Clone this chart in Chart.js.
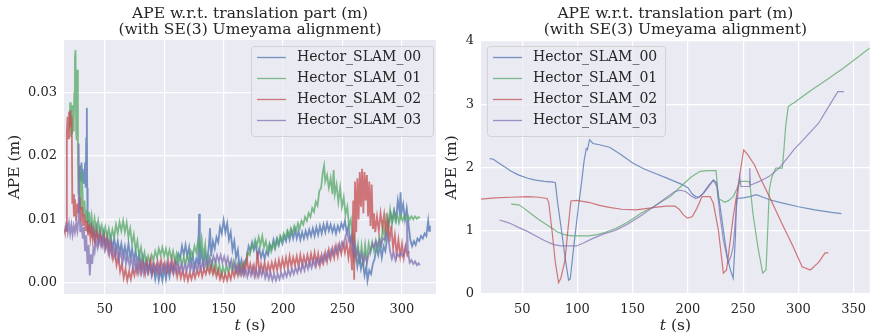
<!DOCTYPE html>
<html>
<head>
<meta charset="utf-8">
<script src="https://cdn.jsdelivr.net/npm/chart.js@4.4.1/dist/chart.umd.min.js"></script>
<style>
  html, body { margin: 0; padding: 0; background: #ffffff; }
  #wrap { position: relative; width: 874px; height: 336px; overflow: hidden; }
  canvas { position: absolute; top: 0; }
  #chartLeft { left: 0; }
  #chartRight { left: 437px; }
</style>
</head>
<body>
<div id="wrap">
  <canvas id="chartLeft" width="437" height="336"></canvas>
  <canvas id="chartRight" width="437" height="336"></canvas>
</div>
<script>
// nomi delle serie e colori (seaborn deep)
const nomiSerie = ["Hector_SLAM_00", "Hector_SLAM_01", "Hector_SLAM_02", "Hector_SLAM_03"];
const coloriSerie = ["rgba(76,114,176,0.75)", "rgba(85,168,104,0.75)", "rgba(196,78,82,0.75)", "rgba(129,114,178,0.75)"];

const titoloGrafico = ["APE w.r.t. translation part (m)", "(with SE(3) Umeyama alignment)"];
const etichettaY = "APE (m)";

// --- grafico di sinistra: [t (s), APE (m)] ---
const sx00 = [[29,0.0165],[29.5,0.0185],[30,0.016],[30.5,0.019],[31,0.0165],[31.5,0.018],[32,0.0158],[32.5,0.0175],[33,0.016],[33.5,0.019],[34,0.015],[34.5,0.0228],[35,0.0276],[35.3,0.015],[35.7,0.008],[36.5,0.01],[37.5,0.0078],[38.5,0.0095],[39.5,0.0072],[40.5,0.009],[41.5,0.007],[43,0.0088],[44.5,0.0068],[46,0.0085],[47.5,0.0064],[49,0.008],[50.5,0.006],[52,0.0076],[53.5,0.0058],[55,0.0072],[56.5,0.0056],[58,0.007],[59.5,0.0052],[61,0.0066],[62.5,0.0048],[64,0.0062],[65.5,0.0044],[67,0.0058],[68.5,0.0042],[70,0.0062],[71.5,0.004],[73,0.0054],[74.5,0.0036],[76,0.005],[77.5,0.0032],[79,0.0046],[80.5,0.0028],[82,0.0042],[83.5,0.0024],[85,0.0036],[86.5,0.0018],[88,0.003],[89.5,0.0012],[91,0.0026],[92.5,0.0006],[94,0.0022],[95.5,0.0004],[97,0.002],[98.5,0.0004],[100,0.0022],[101.5,0.0006],[103,0.0024],[104.5,0.001],[106,0.0028],[107.5,0.0018],[109,0.0036],[110.5,0.003],[112,0.0046],[113.5,0.004],[115,0.0058],[116.5,0.0044],[118,0.006],[119.5,0.0042],[121,0.0056],[122.5,0.003],[124,0.0044],[125.5,0.0024],[127,0.0038],[128.5,0.003],[129.4,0.0109],[130,0.003],[131.5,0.005],[133,0.0028],[134.5,0.0048],[136,0.0034],[137.5,0.0056],[138.6,0.0086],[139.5,0.0042],[141,0.0066],[142.5,0.0054],[144,0.0072],[145.5,0.0064],[147,0.0088],[148.5,0.0078],[150,0.0099],[151.5,0.008],[153,0.0094],[154.5,0.0068],[156,0.008],[157.5,0.0052],[159,0.0066],[160.5,0.004],[162,0.0052],[163.5,0.0024],[165,0.0036],[166.5,0.0018],[168,0.0034],[169.5,0.004],[171,0.0058],[172.5,0.005],[174,0.0064],[175.5,0.0052],[177,0.0062],[178.5,0.0042],[180,0.0054],[181.5,0.004],[183,0.005],[184.5,0.0038],[186,0.005],[187.5,0.0044],[189,0.006],[190.5,0.0054],[192,0.0068],[193.5,0.0056],[195,0.007],[196.5,0.006],[198,0.0072],[199.5,0.0062],[201,0.0074],[202.5,0.0066],[204,0.008],[205.5,0.0068],[207,0.0082],[208.5,0.007],[210,0.0084],[211.5,0.007],[213,0.0082],[214.5,0.0068],[216,0.008],[217.5,0.007],[219,0.0082],[220.5,0.0072],[222,0.0084],[223.5,0.0074],[225,0.0086],[226.5,0.0074],[228,0.0088],[229.5,0.0076],[231,0.009],[232.5,0.0078],[234,0.0092],[235.5,0.008],[237,0.0094],[238.5,0.0082],[240,0.0092],[241.5,0.008],[243,0.009],[244.5,0.0078],[246,0.009],[247.5,0.0082],[249,0.0094],[250.5,0.0086],[252,0.0098],[253.5,0.008],[255,0.009],[256.5,0.0066],[258,0.0076],[259.5,0.004],[261,0.0054],[262.5,0.0026],[264,0.0042],[265.5,0.0022],[267,0.0036],[268.5,0.0012],[270,0.0026],[271,0.0004],[272.5,0.002],[274,0.0014],[275.5,0.003],[277,0.0038],[278.5,0.0056],[280,0.0044],[281.5,0.006],[283,0.004],[284.5,0.0058],[286,0.005],[287.5,0.007],[289,0.0094],[290.5,0.011],[292,0.0098],[293.5,0.0114],[295,0.01],[296.5,0.013],[298,0.0112],[298.8,0.0143],[299.5,0.011],[301,0.0124],[302.5,0.01],[304,0.0118],[305.5,0.0092],[307,0.0068],[308.5,0.0058],[310,0.0066],[311.5,0.006],[313,0.007],[314.5,0.0066],[316,0.0074],[317.5,0.007],[319,0.0078],[320.5,0.0074],[322,0.0098],[322.8,0.0082],[323.5,0.009]];

const sx01 = [[20.5,0.024],[21,0.0285],[21.5,0.023],[22,0.0265],[22.5,0.0235],[23,0.028],[23.5,0.024],[24,0.025],[24.5,0.03],[25,0.0355],[25.5,0.0367],[26,0.024],[26.5,0.0225],[27,0.0336],[27.5,0.02],[28,0.014],[28.5,0.0185],[29,0.012],[29.5,0.0175],[30,0.0115],[31,0.0165],[32,0.0105],[33,0.013],[34,0.0095],[35,0.0115],[36,0.0092],[37,0.0112],[38,0.0088],[39,0.0105],[40,0.0085],[41.5,0.0102],[43,0.008],[44.5,0.0098],[46,0.0076],[47.5,0.009],[49,0.0074],[50.5,0.0088],[52,0.007],[53.5,0.0085],[55,0.0068],[56.5,0.0084],[58,0.0072],[59.5,0.0092],[61,0.0078],[62.5,0.0096],[64,0.0082],[65.5,0.0098],[67,0.008],[68.5,0.0095],[70,0.0072],[71.5,0.0086],[73,0.0062],[74.5,0.0076],[76,0.0052],[77.5,0.0066],[79,0.0042],[80.5,0.0056],[82,0.0034],[83.5,0.0048],[85,0.003],[86.5,0.0042],[88,0.003],[89.5,0.0044],[91,0.0036],[92.5,0.005],[94,0.004],[95.5,0.0054],[97,0.0044],[98.5,0.0056],[100,0.0042],[101.5,0.0054],[103,0.004],[104.5,0.0052],[106,0.0038],[107.5,0.005],[109,0.0034],[110.5,0.0046],[112,0.003],[113.5,0.0042],[115,0.0028],[116.5,0.004],[118,0.003],[119.5,0.0044],[121,0.0034],[122.5,0.005],[124,0.0042],[125.5,0.0058],[127,0.0048],[128.5,0.0066],[130,0.005],[131.5,0.007],[133,0.004],[134.5,0.006],[136,0.0024],[137.5,0.004],[139,0.002],[140.5,0.0034],[142,0.0018],[143.5,0.0032],[145,0.0016],[146.5,0.0028],[148,0.0012],[149.5,0.0026],[151,0.0014],[152.5,0.0028],[154,0.0016],[155.5,0.003],[157,0.002],[158.5,0.0034],[160,0.0018],[161.5,0.003],[163,0.0016],[164.5,0.0028],[166,0.0018],[167.5,0.0032],[169,0.003],[170.5,0.0048],[172,0.0044],[173.5,0.006],[175,0.0054],[176.5,0.0068],[178,0.0058],[179.5,0.0072],[181,0.006],[182.5,0.0074],[184,0.0056],[185.5,0.0066],[187,0.005],[188.5,0.0062],[190,0.005],[191.5,0.0062],[193,0.0054],[194.5,0.0068],[196,0.006],[197.5,0.0074],[199,0.0066],[200.5,0.0078],[202,0.007],[203.5,0.0082],[205,0.0074],[206.5,0.0086],[208,0.0078],[209.5,0.009],[211,0.0082],[212.5,0.0094],[214,0.0086],[215.5,0.0098],[217,0.0092],[218.5,0.0104],[220,0.0098],[221.5,0.011],[223,0.0104],[224.5,0.0118],[226,0.0112],[227.5,0.0128],[229,0.0122],[230.5,0.0145],[232,0.015],[233.5,0.0175],[234.5,0.0185],[235.5,0.016],[237,0.017],[238.5,0.015],[240,0.0165],[241.5,0.014],[242.5,0.0178],[243.5,0.014],[245,0.0155],[246.5,0.0128],[248,0.015],[249.5,0.012],[251,0.0135],[252.5,0.0108],[254,0.012],[255.5,0.009],[257,0.01],[258.5,0.0065],[260,0.0075],[261.5,0.004],[263,0.006],[264.5,0.003],[266,0.0058],[267.5,0.0032],[269,0.006],[270.5,0.0036],[272,0.0062],[273.5,0.0048],[275,0.0064],[276.5,0.005],[278,0.0066],[279.5,0.0052],[281,0.0072],[282.5,0.006],[284,0.009],[285.5,0.007],[287,0.011],[288.5,0.0085],[290,0.0115],[291.5,0.0092],[293,0.0112],[294.5,0.0098],[296,0.0108],[297.5,0.0095],[299,0.0106],[300.5,0.0098],[302,0.0106],[303.5,0.01],[305,0.0106],[306.5,0.01],[308,0.0105],[309.5,0.01],[311,0.0105],[312.5,0.0101],[314,0.0104],[315,0.0102]];

const sx02 = [[15.8,0.0085],[16.5,0.008],[17.3,0.0088],[17.8,0.0082],[18.2,0.024],[18.8,0.0262],[19.4,0.0228],[20,0.027],[20.6,0.0245],[21.2,0.0272],[21.8,0.025],[22.3,0.0262],[22.8,0.0125],[23.5,0.014],[24.2,0.0105],[25,0.0132],[26,0.0098],[27,0.0125],[28,0.011],[29,0.0135],[30,0.0095],[31,0.012],[32,0.009],[33,0.0108],[34,0.0082],[35,0.0098],[36,0.0075],[37,0.0092],[38,0.007],[39,0.0086],[40,0.0068],[41,0.0082],[42,0.0065],[43.5,0.008],[45,0.0062],[46.5,0.0076],[48,0.006],[49.5,0.0074],[51,0.0055],[52.5,0.0068],[54,0.0045],[55.5,0.006],[57,0.0038],[58.5,0.005],[60,0.0028],[61.5,0.0042],[63,0.0018],[64.5,0.003],[66,0.0008],[67.5,0.0022],[69,0.0004],[70.5,0.0018],[72,0.0006],[73.5,0.0022],[75,0.0012],[76.5,0.0028],[78,0.0015],[79.5,0.0032],[81,0.0016],[82.5,0.003],[84,0.0014],[85.5,0.0032],[87,0.0018],[88.5,0.0036],[90,0.0016],[91.5,0.003],[93,0.002],[94.5,0.0034],[96,0.0018],[97.5,0.0036],[99,0.002],[100.5,0.0032],[102,0.0018],[103.5,0.0034],[105,0.002],[106.5,0.0036],[108,0.0016],[109.5,0.003],[111,0.001],[112.5,0.0024],[114,0.0008],[115.5,0.002],[117,0.0006],[118.5,0.0018],[120,0.0004],[121.5,0.0016],[123,0.0006],[124.5,0.0018],[126,0.0008],[127.5,0.002],[129,0.0012],[130.5,0.0024],[132,0.001],[133.5,0.0022],[135,0.0014],[136.5,0.0026],[138,0.0016],[139.5,0.0028],[141,0.0014],[142.5,0.0024],[144,0.001],[145.5,0.002],[147,0.0006],[148.5,0.0016],[150,0.0004],[151.5,0.0014],[153,0.0004],[154.5,0.0016],[156,0.0006],[157.5,0.002],[159,0.001],[160.5,0.0024],[162,0.0012],[163.5,0.0026],[165,0.0014],[166.5,0.003],[168,0.0016],[169.5,0.004],[171,0.0018],[172.5,0.003],[174,0.0016],[175.5,0.0028],[177,0.0014],[178.5,0.005],[180,0.0016],[181.5,0.003],[183,0.0018],[184.5,0.0032],[186,0.0016],[187.5,0.003],[189,0.0018],[190.5,0.0032],[192,0.002],[193.5,0.0034],[195,0.002],[196.5,0.0036],[198,0.0022],[199.5,0.0038],[201,0.0024],[202.5,0.004],[204,0.0024],[205.5,0.0042],[207,0.0026],[208.5,0.004],[210,0.0028],[211.5,0.0042],[213,0.0026],[214.5,0.0044],[216,0.0028],[217.5,0.0042],[219,0.003],[220.5,0.0044],[222,0.003],[223.5,0.0046],[225,0.0032],[226.5,0.0048],[228,0.003],[229.5,0.0046],[231,0.0028],[232.5,0.0044],[234,0.0032],[235.5,0.0048],[237,0.0034],[238.5,0.0052],[240,0.0038],[241.5,0.0054],[243,0.004],[244.5,0.0058],[246,0.0042],[247.5,0.006],[249,0.0046],[250.5,0.0062],[252,0.0048],[253.5,0.0064],[255,0.004],[256.5,0.006],[258,0.002],[259,0.013],[259.8,0.0005],[260.5,0.016],[261.5,0.008],[262.5,0.0165],[263.5,0.01],[264.5,0.0175],[265.5,0.012],[266.5,0.018],[267.5,0.011],[268.5,0.0175],[269.5,0.013],[270.5,0.017],[271.5,0.0105],[272.5,0.016],[273.5,0.009],[274.5,0.0155],[275.5,0.0085],[276.5,0.011],[277.5,0.008],[279,0.0105],[280.5,0.0082],[282,0.011],[283.5,0.0088],[285,0.0108],[286.5,0.0078],[288,0.01],[289.5,0.0065],[291,0.009],[292.5,0.0055],[294,0.0075],[295.5,0.0045],[297,0.0068],[298.5,0.0042],[300,0.0062],[301.5,0.004],[303,0.0058],[304.5,0.0044],[306,0.005]];

const sx03 = [[17,0.009],[17.5,0.0082],[18,0.0095],[19,0.008],[20,0.0094],[21,0.0078],[22,0.0092],[23,0.0076],[24,0.009],[25,0.008],[26,0.0094],[27,0.0082],[27.8,0.0098],[28.2,0.022],[28.6,0.012],[29.5,0.008],[30.5,0.0095],[31.5,0.007],[32.5,0.0088],[33.5,0.005],[34.5,0.0075],[35.5,0.003],[36.5,0.006],[37.5,0.0012],[38.5,0.0045],[39.5,0.003],[40.5,0.0055],[41.5,0.0048],[42.5,0.0068],[44,0.0055],[45.5,0.0072],[47,0.0058],[48.5,0.007],[50,0.0052],[51.5,0.0066],[53,0.0048],[54.5,0.0062],[56,0.0044],[57.5,0.0058],[59,0.004],[60.5,0.0054],[62,0.0036],[63.5,0.005],[65,0.0032],[66.5,0.0046],[68,0.003],[69.5,0.0042],[71,0.0026],[72.5,0.004],[74,0.0022],[75.5,0.0036],[77,0.0018],[78.5,0.0032],[80,0.0016],[81.5,0.003],[83,0.0014],[84.5,0.0028],[86,0.0016],[87.5,0.003],[89,0.0018],[90.5,0.003],[92,0.0016],[93.5,0.0028],[95,0.0018],[96.5,0.003],[98,0.0016],[99.5,0.0028],[101,0.0018],[102.5,0.0032],[104,0.002],[105.5,0.003],[107,0.0018],[108.5,0.003],[110,0.0016],[111.5,0.0028],[113,0.0018],[114.5,0.003],[116,0.0018],[117.5,0.003],[119,0.002],[120.5,0.0032],[122,0.002],[123.5,0.003],[125,0.0018],[126.5,0.003],[128,0.002],[129.5,0.0032],[131,0.0022],[132.5,0.0034],[134,0.0024],[135.5,0.0036],[137,0.0028],[138.5,0.004],[140,0.003],[141.5,0.0042],[143,0.0032],[144.5,0.0044],[146,0.0034],[147.5,0.0044],[149,0.0032],[150.5,0.0042],[152,0.003],[153.5,0.004],[155,0.0026],[156.5,0.0036],[158,0.0022],[159.5,0.0032],[161,0.0018],[162.5,0.0028],[164,0.0014],[165.5,0.0024],[167,0.0012],[168.5,0.0022],[170,0.001],[171.5,0.0022],[173,0.0012],[174.5,0.0024],[176,0.001],[177.5,0.002],[179,0.001],[180.5,0.0022],[182,0.0012],[183.5,0.0022],[185,0.0008],[186.5,0.0018],[188,0.0006],[189.5,0.0016],[191,0.0004],[192.5,0.0014],[194,0.0004],[195.5,0.0014],[197,0.0006],[198.5,0.0016],[200,0.0008],[201.5,0.0018],[203,0.001],[204.5,0.002],[206,0.0012],[207.5,0.0022],[209,0.0014],[210.5,0.0024],[212,0.0016],[213.5,0.0026],[215,0.0018],[216.5,0.003],[218,0.002],[219.5,0.0032],[221,0.0022],[222.5,0.0034],[224,0.0024],[225.5,0.0036],[227,0.0026],[228.5,0.0038],[230,0.003],[231.5,0.004],[233,0.0032],[234.5,0.0044],[236,0.0036],[237.5,0.0048],[239,0.004],[240.5,0.0052],[242,0.0044],[243.5,0.0056],[245,0.0048],[246.5,0.006],[248,0.0052],[249.5,0.0064],[251,0.0058],[252.5,0.0074],[254,0.008],[255.5,0.0066],[257,0.0072],[258.5,0.005],[260,0.0064],[261.5,0.004],[263,0.0052],[264.5,0.0034],[266,0.0046],[267.5,0.003],[269,0.0044],[270.5,0.0032],[272,0.0046],[273.5,0.005],[275,0.0062],[276.5,0.0056],[278,0.0066],[279.5,0.0058],[281,0.0068],[282.5,0.006],[284,0.007],[285.5,0.0068],[287,0.0078],[288.5,0.007],[290,0.005],[291.5,0.0038],[293,0.0048],[294.5,0.0036],[296,0.0046],[297.5,0.0042],[299,0.0048],[300.5,0.0042],[302,0.0048],[303.5,0.006],[304.2,0.0099],[305,0.005],[306.5,0.0032],[308,0.0036],[309.5,0.003],[311,0.0034],[312.5,0.0028],[314,0.0031],[315,0.0028]];

// --- grafico di destra: [t (s), APE (m)] ---
const dx00 = [[20.6,2.14],[24,2.13],[28,2.08],[34,2.01],[40,1.94],[47,1.88],[55,1.83],[62,1.8],[70,1.78],[78,1.77],[80,1.76],[82,1.45],[86,0.95],[89,0.55],[92,0.22],[93.5,0.24],[97,0.8],[101,1.4],[104,1.8],[106,2.1],[108,2.3],[109,2.28],[111,2.44],[114,2.38],[120,2.36],[129,2.32],[138,2.22],[150,2.07],[160,1.98],[170,1.91],[180,1.84],[188,1.78],[195,1.73],[200,1.68],[204,1.58],[207,1.54],[210,1.53],[214,1.6],[219,1.72],[223,1.8],[226,1.76],[229,1.4],[233,0.9],[236,0.55],[239,0.35],[241,0.25],[243,0.9],[244,1.51],[250,1.52],[256,1.54],[262,1.57],[268,1.53],[274,1.49],[285,1.44],[300,1.38],[315,1.33],[330,1.29],[339,1.27]];
const dx01 = [[40,1.42],[47,1.41],[52,1.35],[58,1.27],[64,1.19],[70,1.12],[76,1.05],[82,0.98],[88,0.94],[95,0.92],[102,0.92],[110,0.92],[118,0.94],[126,0.98],[135,1.04],[145,1.13],[158,1.28],[168,1.37],[176,1.46],[184,1.54],[190,1.64],[196,1.74],[203,1.85],[211,1.94],[218,1.95],[225.5,1.95],[227.6,1.51],[233.5,1.45],[237,1.48],[241,1.54],[244,1.65],[247,1.78],[254,1.78],[256,1.77],[258.8,1.28],[263.3,0.75],[267.7,0.33],[270.7,0.38],[272,0.9],[273.7,1.65],[276,1.85],[279.6,1.99],[285.5,1.99],[287,2.3],[288.5,2.65],[290.8,2.96],[292,2.98],[295.8,3.02],[310,3.2],[325,3.38],[340,3.56],[352,3.72],[362.5,3.86],[366,3.9]];
const dx02 = [[12.7,1.5],[25,1.52],[40,1.53],[55,1.54],[65,1.53],[72.5,1.51],[74,1.45],[77,1.0],[80,0.5],[82.9,0.18],[85,0.25],[88.8,0.54],[91,0.95],[94.1,1.47],[99.2,1.48],[110,1.45],[120,1.4],[128.8,1.37],[140,1.34],[152.6,1.33],[162,1.35],[170.4,1.37],[180,1.39],[188.2,1.39],[192,1.34],[196,1.25],[199.5,1.2],[203.9,1.22],[208,1.35],[212.8,1.54],[220.2,1.54],[223.1,1.43],[227.6,1.01],[232.1,0.33],[235,0.38],[238,0.8],[241,1.22],[245.4,1.7],[248,2.0],[250.5,2.28],[254.3,2.2],[260.3,2.04],[264.8,1.86],[273.7,1.54],[285,1.12],[295,0.76],[303.4,0.43],[310.8,0.38],[318.3,0.5],[324.2,0.65],[327.1,0.65]];
const dx03 = [[29.5,1.17],[35,1.14],[39.9,1.11],[47,1.05],[54.7,0.99],[62,0.92],[69.6,0.85],[78.5,0.78],[85,0.76],[92,0.76],[99.2,0.76],[106,0.81],[114,0.88],[124,0.95],[134.8,1.01],[146,1.11],[158.5,1.25],[165,1.33],[173.3,1.43],[180,1.52],[188.2,1.62],[193,1.64],[198,1.62],[203,1.55],[206.9,1.51],[210,1.53],[214.3,1.59],[219,1.7],[223.1,1.8],[226.2,1.7],[229,1.25],[232.1,0.85],[236.5,0.49],[239,0.6],[241,0.75],[244,1.38],[246.9,1.86],[248,1.7],[251.4,1.7],[255.5,1.7],[256,1.99],[256.5,1.72],[264.8,1.78],[273.7,1.86],[282.6,1.99],[290,2.15],[295.8,2.28],[305,2.45],[318.3,2.7],[327,2.95],[335.8,3.2],[341.2,3.2]];

// tick degli assi
const tickXSinistra = [50, 100, 150, 200, 250, 300];
const tickYSinistra = [0, 0.01, 0.02, 0.03];
const tickXDestra = [50, 100, 150, 200, 250, 300, 350];
const tickYDestra = [0, 1, 2, 3, 4];

const FONT = "'DejaVu Serif', serif";
const TESTO = "#262626";

// sfondo grigio dell'area del grafico
const sfondoArea = {
  id: "sfondoArea",
  beforeDraw(chart) {
    const { ctx, chartArea: a } = chart;
    ctx.save();
    ctx.fillStyle = "#EAEAF2";
    ctx.fillRect(a.left, a.top, a.right - a.left, a.bottom - a.top);
    ctx.restore();
  }
};

// titolo su due righe centrato sull'area del grafico
const titoloCentrato = {
  id: "titoloCentrato",
  afterDraw(chart) {
    const { ctx, chartArea: a } = chart;
    ctx.save();
    ctx.fillStyle = TESTO;
    ctx.font = "15.5px " + FONT;
    ctx.textAlign = "center";
    ctx.textBaseline = "alphabetic";
    const cx = (a.left + a.right) / 2;
    titoloGrafico.forEach((riga, i) => ctx.fillText(riga, cx, 18.3 + i * 16));
    ctx.restore();
  }
};

// etichetta asse x con la t in corsivo
const etichettaX = {
  id: "etichettaX",
  afterDraw(chart) {
    const { ctx, chartArea: a } = chart;
    const y = 326;
    ctx.save();
    ctx.fillStyle = TESTO;
    ctx.textBaseline = "middle";
    const fItal = "italic 15.5px " + FONT;
    const fNorm = "15.5px " + FONT;
    ctx.font = fItal;
    const w1 = ctx.measureText("t").width;
    ctx.font = fNorm;
    const w2 = ctx.measureText(" (s)").width;
    const x = (a.left + a.right) / 2 - (w1 + w2) / 2;
    ctx.font = fItal;
    ctx.fillText("t", x, y);
    ctx.font = fNorm;
    ctx.fillText(" (s)", x + w1, y);
    ctx.restore();
  }
};

// legenda dentro l'area del grafico
const legendaInterna = {
  id: "legendaInterna",
  afterDatasetsDraw(chart, args, opts) {
    const { ctx } = chart;
    const box = opts.box;
    ctx.save();
    ctx.beginPath();
    ctx.roundRect(box.x + 0.5, box.y + 0.5, box.w, box.h, 3);
    ctx.fillStyle = "rgba(234,234,242,0.8)";
    ctx.fill();
    ctx.strokeStyle = "rgba(204,204,204,0.8)";
    ctx.lineWidth = 1;
    ctx.stroke();
    ctx.font = "14px " + FONT;
    ctx.textBaseline = "middle";
    nomiSerie.forEach((nome, i) => {
      const y = box.y + 11.5 + i * 21;
      ctx.strokeStyle = coloriSerie[i];
      ctx.lineWidth = 1.3;
      ctx.beginPath();
      ctx.moveTo(box.x + 6, y);
      ctx.lineTo(box.x + 35, y);
      ctx.stroke();
      ctx.fillStyle = TESTO;
      ctx.fillText(nome, box.x + 46, y);
    });
    ctx.restore();
  }
};

function creaGrafico(idCanvas, serie, cfg) {
  const ctx = document.getElementById(idCanvas);
  const datasets = serie.map((dati, i) => ({
    label: nomiSerie[i],
    data: dati,
    borderColor: coloriSerie[i],
    borderWidth: cfg.spessore,
    pointRadius: 0,
    tension: 0,
    fill: false,
    order: serie.length - i
  }));

  return new Chart(ctx, {
    type: "line",
    data: { datasets: datasets },
    plugins: [sfondoArea, titoloCentrato, etichettaX, legendaInterna],
    options: {
      responsive: false,
      animation: false,
      devicePixelRatio: 1,
      layout: { padding: { left: 0, right: cfg.destra, top: cfg.alto, bottom: 0 } },
      plugins: {
        legend: { display: false },
        tooltip: { enabled: false },
        title: { display: false },
        legendaInterna: { box: cfg.legenda }
      },
      scales: {
        x: {
          type: "linear",
          min: cfg.xMin,
          max: cfg.xMax,
          afterBuildTicks: s => { s.ticks = cfg.tickX.map(v => ({ value: v })); },
          afterFit: s => { s.height = 42; },
          border: { display: false },
          grid: { color: "#ffffff", lineWidth: 1.2, drawTicks: false },
          ticks: {
            color: TESTO,
            padding: 8,
            maxRotation: 0,
            font: { family: FONT, size: 13 },
            callback: v => String(v)
          }
        },
        y: {
          type: "linear",
          min: cfg.yMin,
          max: cfg.yMax,
          afterBuildTicks: s => { s.ticks = cfg.tickY.map(v => ({ value: v })); },
          afterFit: s => { s.width = cfg.larghezzaY; },
          border: { display: false },
          grid: { color: "#ffffff", lineWidth: 1.2, drawTicks: false },
          title: {
            display: true,
            text: etichettaY,
            color: TESTO,
            font: { family: FONT, size: 15.5 },
            padding: { top: 6, bottom: 0 }
          },
          ticks: {
            color: TESTO,
            padding: 7,
            font: { family: FONT, size: 13 },
            callback: cfg.formatoY
          }
        }
      }
    }
  });
}

creaGrafico("chartLeft", [sx00, sx01, sx02, sx03], {
  spessore: 1.8,
  destra: 1,
  alto: 40,
  xMin: 15.8, xMax: 328.6,
  yMin: -0.00174, yMax: 0.0383,
  tickX: tickXSinistra, tickY: tickYSinistra,
  larghezzaY: 64,
  formatoY: v => v.toFixed(2),
  legenda: { x: 251, y: 46, w: 182, h: 90 }
});

creaGrafico("chartRight", [dx00, dx01, dx02, dx03], {
  spessore: 1.2,
  destra: 0,
  alto: 41,
  xMin: 12.7, xMax: 364.6,
  yMin: 0, yMax: 4,
  tickX: tickXDestra, tickY: tickYDestra,
  larghezzaY: 44,
  formatoY: v => String(v),
  legenda: { x: 50, y: 46, w: 178, h: 90 }
});
</script>
</body>
</html>
